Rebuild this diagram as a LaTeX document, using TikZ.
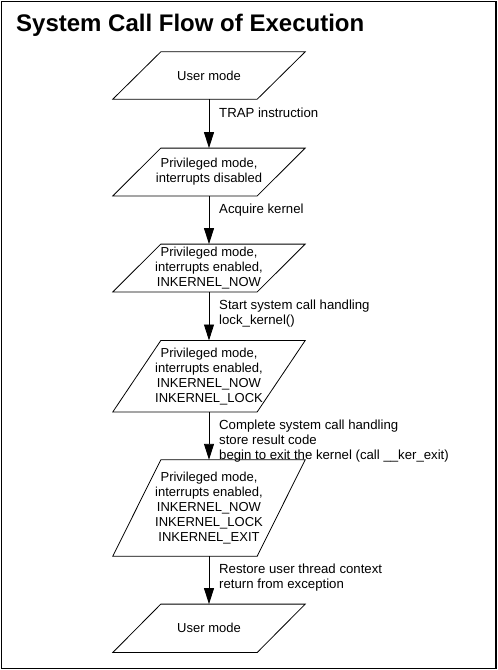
\documentclass[tikz,border=0pt]{standalone}
\usepackage{fontspec}
\setmainfont{Liberation Sans}
\usetikzlibrary{arrows.meta}
\newcommand{\pgram}[1]{\draw[shapeline] ([xshift=48pt]#1.north west) -- (#1.north east) -- ([xshift=-48pt]#1.south east) -- (#1.south west) -- cycle;}
\begin{document}
\begin{tikzpicture}[x=1pt,y=-1pt,
  shapeline/.style={line width=0.8pt},
  boxnode/.style={draw=none, minimum width=192pt, inner sep=0pt, align=center,
    font=\fontsize{13pt}{15pt}\selectfont},
  lbl/.style={anchor=north west, inner sep=0pt, align=left,
    font=\fontsize{13.2pt}{15pt}\selectfont},
  flow/.style={line width=0.9pt, -{Triangle[length=16pt,width=10pt]}}]
\useasboundingbox (0,0) rectangle (498,670);
\draw[line width=1.5pt] (1.5,1.5) rectangle (496,668.5);
\node[anchor=base west, inner sep=0pt, font=\fontsize{24pt}{28pt}\selectfont\bfseries] (title) at (16,31) {System Call Flow of Execution};

\node[boxnode, minimum height=47pt] (b1) at (209,75.5) {User mode};
\node[boxnode, minimum height=47.4pt] (b2) at (209,172) {Privileged mode,\\interrupts disabled};
\node[boxnode, minimum height=47.4pt] (b3) at (209,268) {Privileged mode,\\interrupts enabled,\\INKERNEL\_NOW};
\node[boxnode, minimum height=71pt] (b4) at (209,376.2) {Privileged mode,\\interrupts enabled,\\INKERNEL\_NOW\\INKERNEL\_LOCK};
\node[boxnode, minimum height=96pt] (b5) at (209,508) {Privileged mode,\\interrupts enabled,\\INKERNEL\_NOW\\INKERNEL\_LOCK\\INKERNEL\_EXIT};
\node[boxnode, minimum height=48pt] (b6) at (209,628.3) {User mode};

\pgram{b1}\pgram{b2}\pgram{b3}\pgram{b4}\pgram{b5}\pgram{b6}

\draw[flow] (b1) -- (b2);
\draw[flow] (b2) -- (b3);
\draw[flow] (b3) -- (b4);
\draw[flow] (b4) -- (b5);
\draw[flow] (b5) -- (b6);

\node[lbl] (l1) at (219,107.5) {TRAP instruction};
\node[lbl] (l2) at (219,204) {Acquire kernel};
\node[lbl] (l3) at (219,300) {Start system call handling\\lock\_kernel()};
\node[lbl] (l4) at (219,419.5) {Complete system call handling\\store result code\\begin to exit the kernel (call \_\_ker\_exit)};
\node[lbl] (l5) at (219,563.5) {Restore user thread context\\return from exception};
\end{tikzpicture}
\end{document}
